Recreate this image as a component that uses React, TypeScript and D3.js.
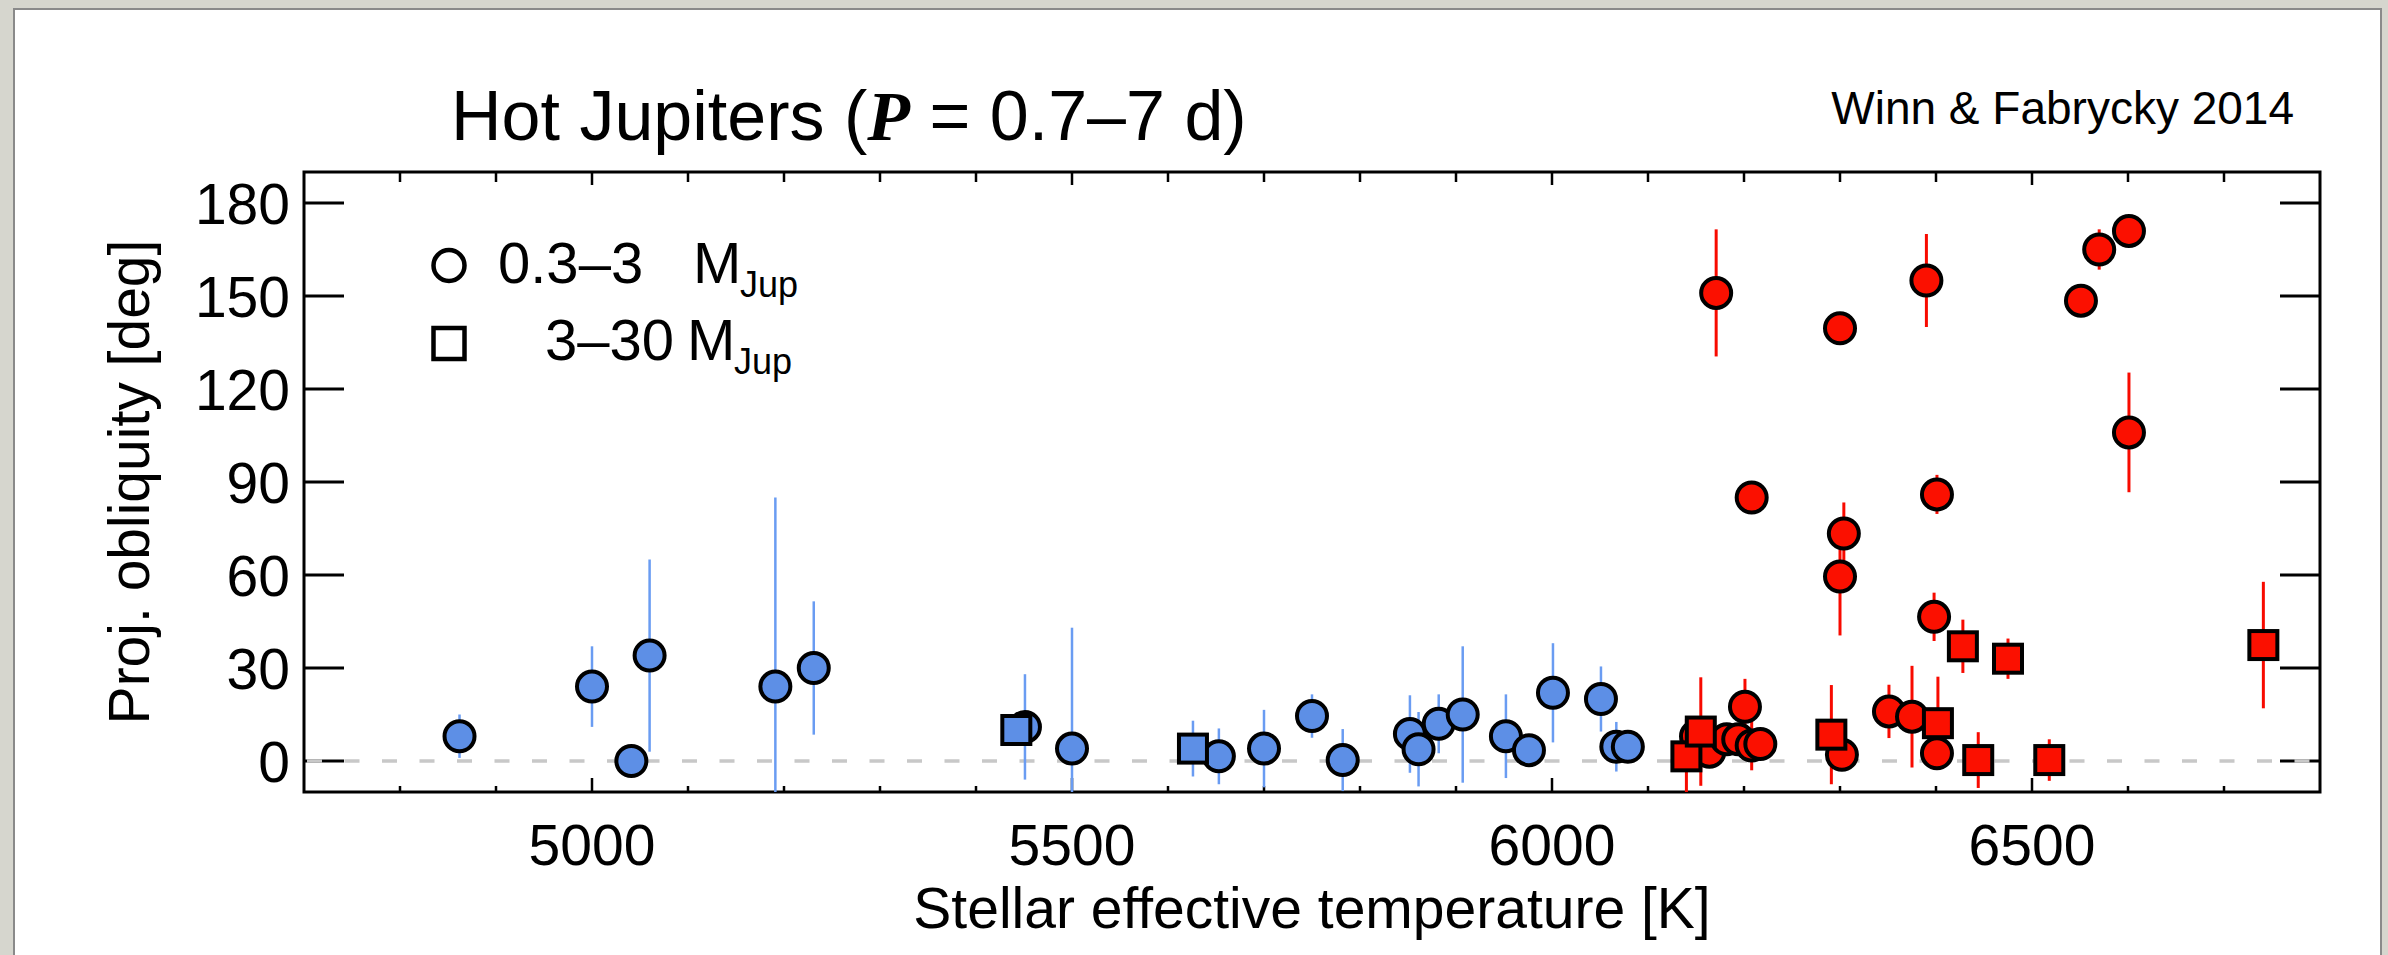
import React from "react";
import * as d3 from "d3";

// ---- data (Teff [K], projected obliquity [deg], error [deg]) ----
const coolCircles: [number, number, number][] = [
  [4862, 8, 7], [5000, 24, 13], [5041, 0, 0], [5060, 34, 31], [5191, 24, 61],
  [5231, 30, 21.5], [5451, 11, 17], [5500, 4, 39], [5653, 1.5, 9], [5700, 4, 12.5],
  [5750, 14.5, 7], [5782, 0.3, 10], [5852, 8.7, 12.5], [5861, 3.8, 12], [5882, 12, 9.5],
  [5907, 15, 22], [5952, 8, 13.5], [5976, 3.5, 0], [6001, 22, 16], [6051, 20, 10.5],
  [6067, 4.6, 8], [6079, 4.6, 0],
];
const coolSquares: [number, number, number][] = [
  [5442, 10, 0], [5626, 4, 9],
];
const hotCircles: [number, number, number][] = [
  [6150, 8, 0], [6164, 3, 0], [6182, 7, 0], [6194, 7, 0], [6201, 17.5, 9],
  [6208, 5, 8], [6217, 5.5, 0], [6171, 151, 20.5], [6208, 85, 0], [6300, 139.6, 0],
  [6304, 73.4, 10], [6300, 59.5, 19], [6302, 2, 0], [6351, 16, 8.6], [6375, 14.3, 16.4],
  [6398, 46.5, 7.8], [6390, 155, 15], [6401, 86, 6.3], [6401, 2.5, 0], [6551, 148.5, 0],
  [6570, 165, 6.5], [6601, 171, 0], [6601, 106, 19.3],
];
const hotSquares: [number, number, number][] = [
  [6140, 1.5, 12], [6155, 9.5, 17.5], [6291, 8.5, 16], [6402, 12.2, 15], [6428, 37, 8.6],
  [6444, 0.3, 9], [6475, 33, 6.5], [6518, 0.3, 6.7], [6741, 37.4, 20.4],
];
const xTickLabels = [5000, 5500, 6000, 6500];
const yTickLabels = [0, 30, 60, 90, 120, 150, 180];
const xDomain = [4700, 6800];
const yDomain = [-10, 190];

const FONT = "'Liberation Sans', Arial, Helvetica, sans-serif";
const BLUE_FILL = "#5d8fe6";
const BLUE_BAR = "#6a9cf2";
const RED_FILL = "#fb1000";
const RED_BAR = "#f80a00";

export default function App() {
  const W = 2388, H = 955;
  const L = 304, R = 2320, T = 172, B = 792;
  const x = d3.scaleLinear().domain(xDomain).range([L, R]);
  const y = d3.scaleLinear().domain(yDomain).range([B, T]);
  const minor = d3.range(xDomain[0] + 100, xDomain[1], 100);
  const cy = (v: number) => Math.max(T, Math.min(B, y(v)));

  const bars = (pts: [number, number, number][], color: string, w: number, key: string) =>
    pts.filter((p) => p[2] > 0).map((p, i) => (
      <line key={key + i} x1={x(p[0])} x2={x(p[0])} y1={cy(p[1] + p[2])} y2={cy(p[1] - p[2])}
        stroke={color} strokeWidth={w} />
    ));
  const circles = (pts: [number, number, number][], fill: string, key: string) =>
    pts.map((p, i) => (
      <circle key={key + i} cx={x(p[0])} cy={y(p[1])} r={15} fill={fill} stroke="#000" strokeWidth={4} />
    ));
  const squares = (pts: [number, number, number][], fill: string, key: string) =>
    pts.map((p, i) => (
      <rect key={key + i} x={x(p[0]) - 14} y={y(p[1]) - 14} width={28} height={28} fill={fill}
        stroke="#000" strokeWidth={4} />
    ));

  return (
    <div style={{ position: "absolute", left: 0, top: 0 }}>
      <svg width={W} height={H} style={{ display: "block" }}>
        <rect x={0} y={0} width={W} height={H} fill="#d6d6ce" />
        <rect x={14} y={9} width={2367} height={980} fill="#fff" stroke="#8a8a8a" strokeWidth={2} />

        {/* title */}
        <text x={451} y={140} fontFamily={FONT} fontSize={70} fill="#000">
          Hot Jupiters (
          <tspan fontFamily="'Liberation Serif', 'Times New Roman', serif" fontStyle="italic" fontWeight="bold">P</tspan>
          {" = 0.7–7 d)"}
        </text>
        <text x={2294} y={124} fontFamily={FONT} fontSize={46} textAnchor="end" fill="#000">
          Winn &amp; Fabrycky 2014
        </text>

        {/* frame */}
        <rect x={L} y={T} width={R - L} height={B - T} fill="none" stroke="#000" strokeWidth={3} />

        {/* x ticks */}
        {minor.map((v) => {
          const major = v % 500 === 0;
          return (
            <g key={"xt" + v}>
              <line x1={x(v)} x2={x(v)} y1={B} y2={B - (major ? 14 : 6)} stroke="#000" strokeWidth={2.5} />
              <line x1={x(v)} x2={x(v)} y1={T} y2={T + (major ? 13 : 10)} stroke="#000" strokeWidth={2.5} />
            </g>
          );
        })}
        {xTickLabels.map((v) => (
          <text key={"xl" + v} x={x(v)} y={865} textAnchor="middle" fontFamily={FONT} fontSize={57} fill="#000">
            {v}
          </text>
        ))}

        {/* y ticks */}
        {yTickLabels.map((v) => (
          <g key={"yt" + v}>
            <line x1={L} x2={L + 40} y1={y(v)} y2={y(v)} stroke="#000" strokeWidth={3} />
            <line x1={R - 40} x2={R} y1={y(v)} y2={y(v)} stroke="#000" strokeWidth={3} />
            <text x={290} y={y(v) + 21} textAnchor="end" fontFamily={FONT} fontSize={57} fill="#000">
              {v}
            </text>
          </g>
        ))}

        {/* axis titles */}
        <text x={(L + R) / 2} y={928} textAnchor="middle" fontFamily={FONT} fontSize={57} fill="#000">
          Stellar effective temperature [K]
        </text>
        <text transform={`translate(149, ${(T + B) / 2}) rotate(-90)`} textAnchor="middle" fontFamily={FONT}
          fontSize={57} fill="#000">
          Proj. obliquity [deg]
        </text>

        {/* zero line */}
        <line x1={L + 3} x2={R - 3} y1={y(0)} y2={y(0)} stroke="#c8c8c8" strokeWidth={3.5}
          strokeDasharray="15 22.5" />

        {/* error bars */}
        {bars(coolCircles, BLUE_BAR, 2.5, "bc")}
        {bars(coolSquares, BLUE_BAR, 2.5, "bs")}
        {bars(hotCircles, RED_BAR, 3, "rc")}
        {bars(hotSquares, RED_BAR, 3, "rs")}

        {/* markers */}
        {circles(coolCircles, BLUE_FILL, "mc")}
        {squares(coolSquares, BLUE_FILL, "ms")}
        {circles(hotCircles, RED_FILL, "hc")}
        {squares(hotSquares, RED_FILL, "hs")}

        {/* legend */}
        <circle cx={449} cy={265.5} r={15.5} fill="none" stroke="#000" strokeWidth={4.5} />
        <rect x={433.5} y={328} width={31} height={31} fill="none" stroke="#000" strokeWidth={4.5} />
        <text x={498} y={283} fontFamily={FONT} fontSize={58} fill="#000">0.3–3</text>
        <text x={693} y={283} fontFamily={FONT} fontSize={58} fill="#000">M</text>
        <text x={740} y={297} fontFamily={FONT} fontSize={36} fill="#000">Jup</text>
        <text x={545} y={360} fontFamily={FONT} fontSize={58} fill="#000">3–30</text>
        <text x={687} y={360} fontFamily={FONT} fontSize={58} fill="#000">M</text>
        <text x={734} y={374} fontFamily={FONT} fontSize={36} fill="#000">Jup</text>
      </svg>
    </div>
  );
}
